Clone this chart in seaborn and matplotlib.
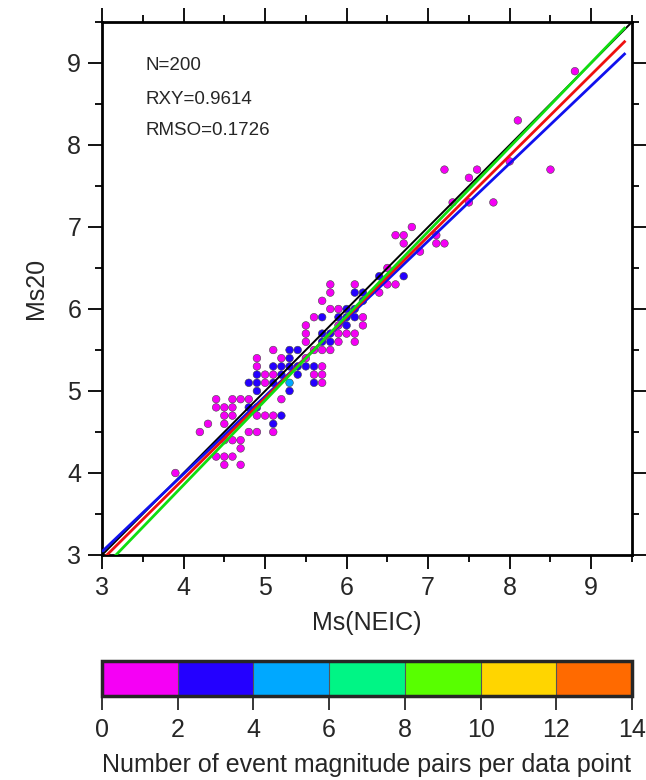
import numpy as np
import pandas as pd
import matplotlib
matplotlib.use("Agg")
import matplotlib.pyplot as plt
import seaborn as sns
from matplotlib.colors import ListedColormap, BoundaryNorm
from matplotlib.ticker import MultipleLocator
import matplotlib.colorbar as mcolorbar

# ---------------- data ----------------
# rows of equal Ms20: (Ms20, [(Ms(NEIC), number of pairs), ...])
row_ms20 = [8.9, 8.3, 7.8, 7.7, 7.6, 7.3, 7.0, 6.9, 6.8, 6.7, 6.5, 6.4, 6.3, 6.2, 6.1,
            6.0, 5.9, 5.8, 5.7, 5.6, 5.5, 5.4, 5.3, 5.2, 5.1, 5.0, 4.9, 4.8, 4.7, 4.6,
            4.5, 4.4, 4.3, 4.2, 4.1, 4.0]
row_neic = [
    [8.8], [8.1], [8.0], [7.2, 7.6, 8.5], [7.5], [7.3, 7.5, 7.8], [6.8], [6.6, 6.7, 7.1],
    [6.7, 7.1, 7.2], [6.9], [6.5], [6.4, 6.7], [5.8, 6.1, 6.5, 6.6], [5.8, 6.1, 6.2, 6.4],
    [5.7, 6.2], [5.8, 5.9, 6.0, 6.1], [5.6, 5.7, 5.9, 6.0, 6.1, 6.2], [5.5, 5.9, 6.0, 6.2],
    [5.5, 5.7, 5.8, 5.9, 6.0, 6.1], [5.5, 5.7, 5.8, 5.9, 6.1], [5.1, 5.3, 5.4, 5.6, 5.7, 5.8],
    [4.9, 5.2, 5.3, 5.5], [4.9, 5.1, 5.2, 5.3, 5.4, 5.5, 5.6, 5.7],
    [4.9, 5.0, 5.1, 5.2, 5.4, 5.6, 5.7], [4.8, 4.9, 5.0, 5.1, 5.3, 5.6, 5.7], [4.9, 5.3],
    [4.4, 4.6, 4.7, 4.8, 5.2], [4.4, 4.5, 4.6, 4.8, 4.9], [4.5, 4.6, 4.9, 5.0, 5.1, 5.2],
    [4.3, 4.5, 5.1], [4.2, 4.8, 4.9, 5.1], [4.5, 4.6, 4.7], [4.7], [4.4, 4.5, 4.6],
    [4.5, 4.7], [3.9]]
row_count = [
    [1], [1], [1], [1, 1, 1], [1], [1, 1, 1], [1], [1, 1, 1], [1, 1, 1], [1], [1], [3, 3],
    [1, 1, 1, 1], [1, 3, 3, 1], [1, 3], [1, 1, 3, 3], [1, 3, 3, 3, 3, 1], [1, 1, 3, 1],
    [1, 3, 3, 1, 1, 1], [1, 3, 3, 1, 1], [1, 3, 3, 1, 1, 1], [1, 1, 3, 1],
    [1, 3, 3, 3, 3, 3, 3, 1], [3, 1, 1, 3, 3, 1, 1], [3, 3, 1, 3, 4, 3, 1], [2, 2],
    [1, 1, 1, 1, 1], [1, 1, 1, 3, 3], [1, 1, 1, 1, 1, 3], [1, 1, 3], [1, 1, 1, 1],
    [1, 1, 1], [1], [1, 1, 1], [1, 1], [1]]

# fitted lines: slope, intercept, x-extent
line_names = ["one_to_one", "fit_blue", "fit_red", "fit_green"]
line_slope = [1.0, 0.947, 0.986, 1.030]
line_intercept = [0.0, 0.200, -0.017, -0.266]
line_xmin = [3.0, 3.0, 3.0, 3.0]
line_xmax = [9.5, 9.42, 9.42, 9.42]
line_colors = ["black", "#1010ee", "#ee1010", "#10dd10"]

stat_labels = ["N=200", "RXY=0.9614", "RMSO=0.1726"]

cbar_bounds = [0, 2, 4, 6, 8, 10, 12, 14]
cbar_colors = ["#f500f5", "#2400ff", "#00a8ff", "#00f585", "#58ff00", "#ffd500", "#ff6a00"]

# ---------------- build frame ----------------
xs, ys, cs = [], [], []
for y, xl, cl in zip(row_ms20, row_neic, row_count):
    for x, c in zip(xl, cl):
        xs.append(x); ys.append(y); cs.append(c)
df = pd.DataFrame({"Ms(NEIC)": xs, "Ms20": ys, "count": cs})

cmap = ListedColormap(cbar_colors)
norm = BoundaryNorm(cbar_bounds, cmap.N)
palette = {c: cmap(norm(c)) for c in sorted(df["count"].unique())}

# ---------------- figure ----------------
sns.set_style("ticks")
plt.rcParams["font.family"] = ["Liberation Sans", "DejaVu Sans"]

fig = plt.figure(figsize=(6.46, 7.80), dpi=100)
ax = fig.add_axes([102 / 646, 1 - 555 / 780, 530 / 646, 533 / 780])

sns.scatterplot(data=df, x="Ms(NEIC)", y="Ms20", hue="count", palette=palette,
                s=30, edgecolor="#444444", linewidth=0.4, legend=False, ax=ax, zorder=2)

for name, m, b, x0, x1, col in zip(line_names, line_slope, line_intercept,
                                    line_xmin, line_xmax, line_colors):
    xx = np.array([x0, x1])
    ax.plot(xx, m * xx + b, color=col, lw=1.4 if name == "one_to_one" else 2.0,
            zorder=3, solid_capstyle="butt")

ax.set_xlim(3, 9.5)
ax.set_ylim(3, 9.5)
ax.xaxis.set_major_locator(MultipleLocator(1))
ax.xaxis.set_minor_locator(MultipleLocator(0.5))
ax.yaxis.set_major_locator(MultipleLocator(1))
ax.yaxis.set_minor_locator(MultipleLocator(0.5))
ax.tick_params(which="both", direction="out", top=True, right=True, width=1.3,
               labelsize=18, color="black")
ax.tick_params(which="major", length=10, pad=5)
ax.tick_params(which="minor", length=5)
for sp in ax.spines.values():
    sp.set_linewidth(2.0)
    sp.set_color("black")
ax.set_xlabel("Ms(NEIC)", fontsize=18, labelpad=8)
ax.set_ylabel("Ms20", fontsize=18, labelpad=14)

text_y = [8.91, 8.50, 8.12]
for s, ty in zip(stat_labels, text_y):
    ax.text(3.53, ty, s, fontsize=13.5, va="baseline", ha="left")

# ---------------- colorbar ----------------
cax = fig.add_axes([102 / 646, 1 - 696 / 780, 530 / 646, 35 / 780])
cb = mcolorbar.ColorbarBase(cax, cmap=cmap, norm=norm, boundaries=cbar_bounds,
                            ticks=cbar_bounds, orientation="horizontal", drawedges=True)
cb.outline.set_linewidth(2.5)
cb.dividers.set_color("#555555")
cb.dividers.set_linewidth(0.8)
cax.tick_params(direction="out", length=10, width=1.3, labelsize=18, pad=6)
cb.set_label("Number of event magnitude pairs per data point", fontsize=18, labelpad=8)

fig.savefig("out.png", dpi=100)
